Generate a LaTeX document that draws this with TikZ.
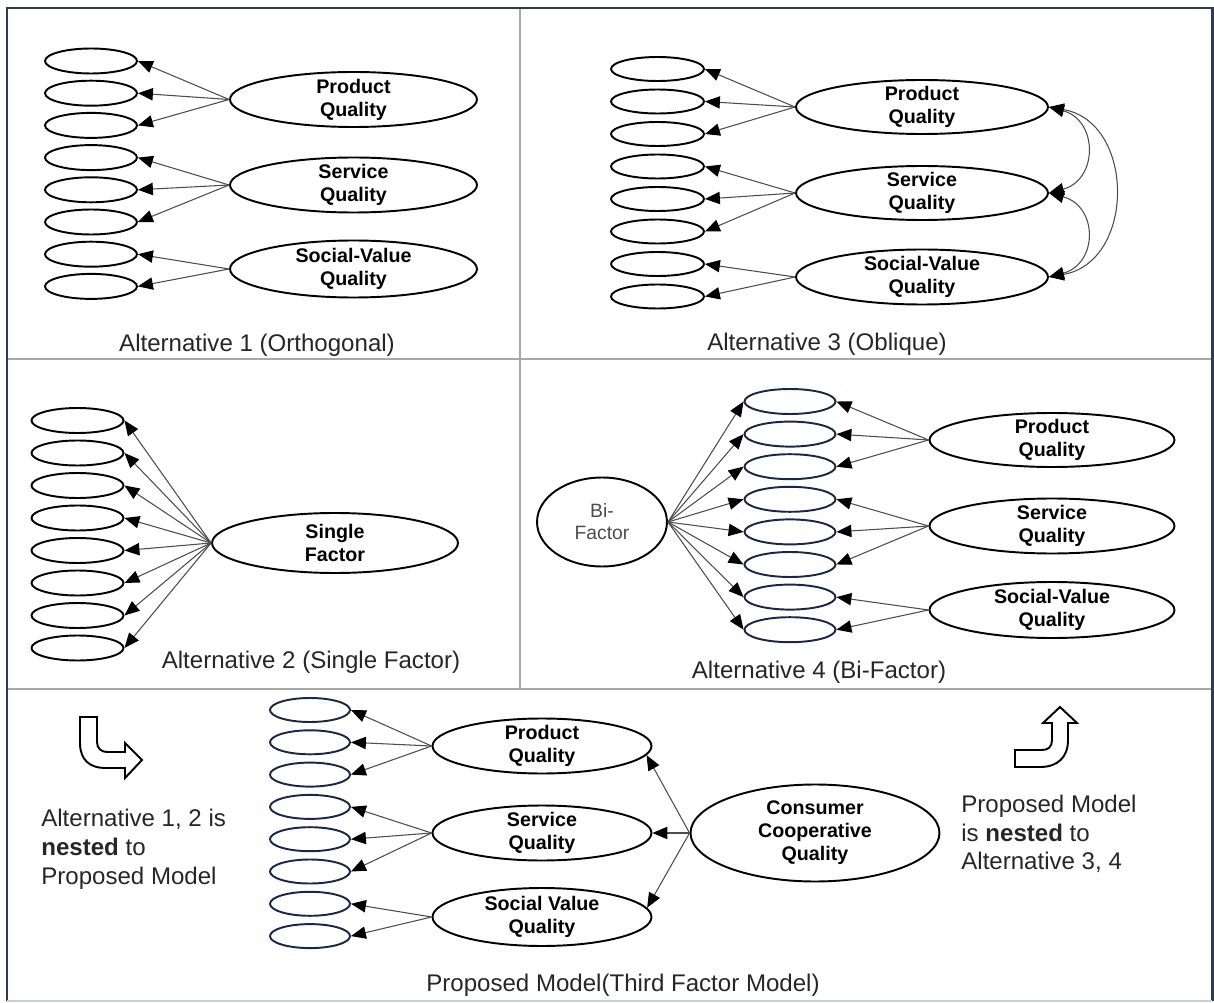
\documentclass[tikz,border=0pt]{standalone}
\usepackage{fontspec}
\setmainfont{Liberation Sans}
\usetikzlibrary{shapes.geometric, arrows.meta}
\definecolor{framec}{RGB}{45,58,88}
\definecolor{framelow}{RGB}{200,204,224}
\definecolor{divc}{RGB}{168,168,168}
\definecolor{indc}{RGB}{25,38,70}
\begin{document}
\begin{tikzpicture}[x=0.02cm, y=-0.02cm,
  obs/.style={ellipse, draw=black, line width=1.1pt, inner sep=0pt},
  lat/.style={ellipse, draw=black, line width=1.1pt, inner xsep=0pt, inner ysep=-2pt,
    align=center, font=\fontsize{11.2}{13}\selectfont\bfseries},
  tipk/.tip={Triangle[length=8.5pt,width=7pt,color=black]},
  load/.style={draw=black!70, line width=0.6pt, -tipk},
  covar/.style={draw=black!70, line width=0.6pt, tipk-tipk},
  captxt/.style={font=\fontsize{13.7}{16.4}\selectfont, text=black!85, inner sep=0pt},
  sidetxt/.style={font=\fontsize{13.7}{16.4}\selectfont, text=black!85, inner sep=0pt, align=left, anchor=west},
  hook/.style={draw=black, line width=1.1pt, fill=white, line join=miter}
]
\useasboundingbox (0,0) rectangle (1214,1003);
% frame and dividers
\draw[divc, line width=1.5pt] (8,359) -- (1211,359);
\draw[divc, line width=1.5pt] (8,689) -- (1211,689);
\draw[divc, line width=1.5pt] (520,8) -- (520,689);
\draw[framec, line width=1.7pt] (7,1001) -- (7,8) -- (1212,8) -- (1212,1001);
\draw[framelow, line width=1.7pt] (7,1001) -- (1212,1001);

% ---------- Alternative 1 ----------
\foreach \i in {1,...,8}
  \node[obs, minimum width=1.84cm, minimum height=0.5cm] (a\i) at (91,{61+32.2*(\i-1)}) {};
\node[lat, minimum width=4.94cm, minimum height=1.1cm] (apq) at (353.5,99.5) {Product\\Quality};
\node[lat, minimum width=4.94cm, minimum height=1.1cm] (asq) at (353.5,185) {Service\\Quality};
\node[lat, minimum width=4.94cm, minimum height=1.14cm] (asv) at (353.5,269) {Social-Value\\Quality};
\foreach \i in {1,2,3} \draw[load] (apq.west) -- (a\i.east);
\foreach \i in {4,5,6} \draw[load] (asq.west) -- (a\i.east);
\foreach \i in {7,8} \draw[load] (asv.west) -- (a\i.east);
\node[captxt] (acap) at (257,345) {Alternative 1 (Orthogonal)};

% ---------- Alternative 3 ----------
\foreach \i in {1,...,8}
  \node[obs, minimum width=1.86cm, minimum height=0.48cm] (c\i) at (657.5,{69+32.5*(\i-1)}) {};
\node[lat, minimum width=5.04cm, minimum height=1.08cm] (cpq) at (922,107) {Product\\Quality};
\node[lat, minimum width=5.04cm, minimum height=1.08cm] (csq) at (922,193) {Service\\Quality};
\node[lat, minimum width=5.04cm, minimum height=1.1cm] (csv) at (922,277) {Social-Value\\Quality};
\foreach \i in {1,2,3} \draw[load] (cpq.west) -- (c\i.east);
\foreach \i in {4,5,6} \draw[load] (csq.west) -- (c\i.east);
\foreach \i in {7,8} \draw[load] (csv.west) -- (c\i.east);
\draw[covar] (cpq.east) to[out=-15, in=15, distance=1.02cm] (csq.east);
\draw[covar] (csq.east) to[out=-15, in=15, distance=1.02cm] (csv.east);
\draw[covar] (cpq.east) to[out=-10, in=10, distance=1.76cm] (csv.east);
\node[captxt] (ccap) at (827,344) {Alternative 3 (Oblique)};

% ---------- Alternative 2 ----------
\foreach \i in {1,...,8}
  \node[obs, minimum width=1.84cm, minimum height=0.5cm] (b\i) at (77.5,{420.5+32.5*(\i-1)}) {};
\node[lat, minimum width=4.92cm, minimum height=1.2cm] (bsf) at (335,543) {Single\\Factor};
\foreach \i in {1,...,8} \draw[load] (bsf.west) -- (b\i.east);
\node[captxt] (bcap) at (311,662) {Alternative 2 (Single Factor)};

% ---------- Alternative 4 ----------
\foreach \i in {1,...,8}
  \node[obs, draw=indc, minimum width=1.82cm, minimum height=0.5cm] (d\i) at (790,{401.5+32.6*(\i-1)}) {};
\node[ellipse, draw=black, line width=1.1pt, inner sep=0pt, minimum width=2.6cm, minimum height=1.78cm,
  align=center, font=\fontsize{11}{12.5}\selectfont, text=black!70] (dbf) at (602,522) {Bi-\\Factor};
\node[lat, minimum width=4.9cm, minimum height=1.08cm] (dpq) at (1052,440) {Product\\Quality};
\node[lat, minimum width=4.9cm, minimum height=1.1cm] (dsq) at (1052,526) {Service\\Quality};
\node[lat, minimum width=4.9cm, minimum height=1.12cm] (dsv) at (1052,610) {Social-Value\\Quality};
\foreach \i in {1,...,8} \draw[load] (dbf.east) -- (d\i.west);
\foreach \i in {1,2,3} \draw[load] (dpq.west) -- (d\i.east);
\foreach \i in {4,5,6} \draw[load] (dsq.west) -- (d\i.east);
\foreach \i in {7,8} \draw[load] (dsv.west) -- (d\i.east);
\node[captxt] (dcap) at (819,672) {Alternative 4 (Bi-Factor)};

% ---------- Proposed model ----------
\foreach \i in {1,...,8}
  \node[obs, draw=indc, minimum width=1.6cm, minimum height=0.48cm] (e\i) at (310,{710+32.3*(\i-1)}) {};
\node[lat, minimum width=4.38cm, minimum height=1.1cm] (epq) at (542,746) {Product\\Quality};
\node[lat, minimum width=4.38cm, minimum height=1.1cm] (esq) at (542,833) {Service\\Quality};
\node[lat, minimum width=4.38cm, minimum height=1.16cm] (esv) at (542,917) {Social Value\\Quality};
\node[lat, minimum width=4.98cm, minimum height=1.94cm] (eccq) at (815,833) {Consumer\\Cooperative\\Quality};
\foreach \i in {1,2,3} \draw[load] (epq.west) -- (e\i.east);
\foreach \i in {4,5,6} \draw[load] (esq.west) -- (e\i.east);
\foreach \i in {7,8} \draw[load] (esv.west) -- (e\i.east);
\draw[load] (eccq.west) -- (epq.-5);
\draw[load] (eccq.west) -- (esq.east);
\draw[load] (eccq.west) -- (esv.5);
\node[captxt] (ecap) at (623,985) {Proposed Model(Third Factor Model)};

% side notes
\draw[hook] (80,717) -- (80,743) .. controls (80,760) and (90,768) .. (105,768)
  -- (125,768) -- (125,778) -- (142,760) -- (125,743) -- (125,752) -- (107,752)
  .. controls (101,752) and (97,748) .. (97,742) -- (97,717) -- cycle;
\node[sidetxt] (lnote) at (41,849) {Alternative 1, 2 is\\\textbf{nested} to\\Proposed Model};
\draw[hook] (1015,767) -- (1040,767) .. controls (1058,767) and (1068,757) .. (1068,740)
  -- (1068,723) -- (1077,723) -- (1060,707) -- (1043,723) -- (1052,723) -- (1052,740)
  .. controls (1052,747) and (1048,750) .. (1042,750) -- (1015,750) -- cycle;
\node[sidetxt] (rnote) at (961,834) {Proposed Model\\is \textbf{nested} to\\Alternative 3, 4};
\end{tikzpicture}
\end{document}
